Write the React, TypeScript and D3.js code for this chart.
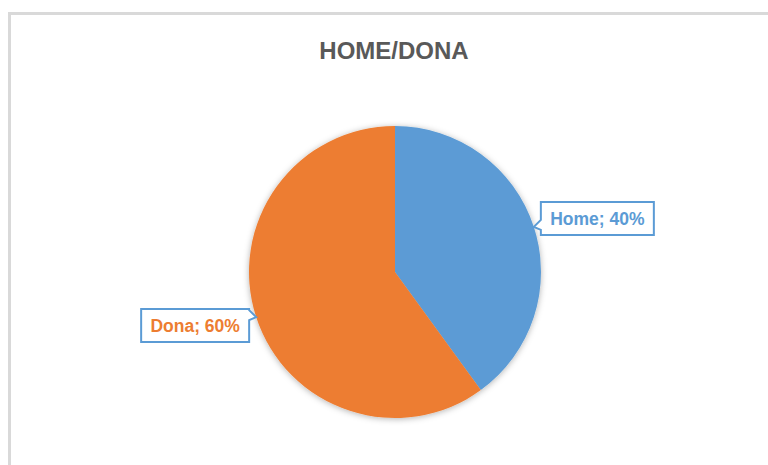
import * as d3 from "d3";
import React, { useRef, useEffect } from "react";

const width = 768;
const height = 465;

const title = "HOME/DONA";
const categories = ["Home", "Dona"];
const values = [40, 60];
const colors = ["#5B9BD5", "#ED7D31"];

export default function App() {
  const ref = useRef(null);

  useEffect(() => {
    const svg = d3.select(ref.current);
    svg.selectAll("*").remove();

    // Chart frame
    svg
      .append("rect")
      .attr("x", 9.5)
      .attr("y", 13.5)
      .attr("width", 820)
      .attr("height", 520)
      .attr("fill", "white")
      .attr("stroke", "#d9d9d9")
      .attr("stroke-width", 3);

    // Title
    svg
      .append("text")
      .attr("x", 394)
      .attr("y", 59)
      .attr("text-anchor", "middle")
      .style("font-family", "Liberation Sans, Arial, sans-serif")
      .style("font-weight", "bold")
      .style("font-size", "24px")
      .attr("fill", "#595959")
      .text(title);

    // shadow
    const defs = svg.append("defs");
    const f = defs
      .append("filter")
      .attr("id", "shadow")
      .attr("x", "-20%")
      .attr("y", "-20%")
      .attr("width", "140%")
      .attr("height", "140%");
    f.append("feDropShadow")
      .attr("dx", 0)
      .attr("dy", 1)
      .attr("stdDeviation", 3)
      .attr("flood-color", "#000")
      .attr("flood-opacity", 0.3);

    const cx = 395;
    const cy = 272;
    const r = 146;

    const data = categories.map((c, i) => ({ label: c, value: values[i], color: colors[i] }));
    const pie = d3
      .pie<any>()
      .sort(null)
      .value((d: any) => d.value);
    const arcs = pie(data);
    const arc = d3.arc<any>().innerRadius(0).outerRadius(r);

    const g = svg.append("g").attr("transform", `translate(${cx},${cy})`);
    g.append("g")
      .attr("filter", "url(#shadow)")
      .selectAll("path")
      .data(arcs)
      .join("path")
      .attr("d", arc as any)
      .attr("fill", (d: any) => d.data.color);

    // Callout labels
    const total = d3.sum(values);
    const boxH = 33;
    arcs.forEach((a: any, i: number) => {
      const mid = (a.startAngle + a.endAngle) / 2;
      const tx = Math.sin(mid) * r;
      const ty = -Math.cos(mid) * r;
      const right = tx > 0;
      const text = `${a.data.label}; ${Math.round((a.data.value / total) * 100)}%`;
      const boxW = right ? 113 : 108;
      const bx = right ? tx + 7 : tx - 7 - boxW;
      const by = right ? ty - 25 : ty - 8;
      const edge = right ? bx : bx + boxW;
      const n1 = ty - 7;
      const n2 = ty + 3;
      let p;
      if (right) {
        p = `M${bx},${by} H${bx + boxW} V${by + boxH} H${bx} V${n2} L${tx},${ty} L${edge},${n1} Z`;
      } else {
        p = `M${bx},${by} H${edge} V${n1} L${tx},${ty} L${edge},${n2} V${by + boxH} H${bx} Z`;
      }
      g.append("path")
        .attr("d", p)
        .attr("fill", "white")
        .attr("stroke", "#5B9BD5")
        .attr("stroke-width", 2);
      g.append("text")
        .attr("x", bx + boxW / 2)
        .attr("y", by + boxH / 2)
        .attr("dy", "0.36em")
        .attr("text-anchor", "middle")
        .style("font-family", "Liberation Sans, Arial, sans-serif")
        .style("font-weight", "bold")
        .style("font-size", "17.5px")
        .attr("fill", a.data.color)
        .text(text);
    });
  }, []);

  return (
    <svg
      ref={ref}
      width={width}
      height={height}
      style={{ position: "fixed", left: 0, top: 0, display: "block" }}
    ></svg>
  );
}
